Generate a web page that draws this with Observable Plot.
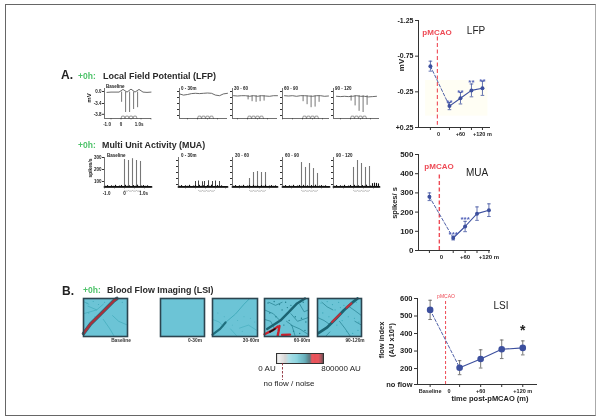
<!DOCTYPE html>
<html><head><meta charset="utf-8">
<script src="https://cdn.jsdelivr.net/npm/d3@7"></script>
<script src="https://cdn.jsdelivr.net/npm/@observablehq/plot@0.6"></script>
<style>
html,body{margin:0;padding:0;background:#fff}
#page{position:relative;width:600px;height:420px;overflow:hidden;font-family:"Liberation Sans",Arial,sans-serif;filter:blur(.3px)}
#border{position:absolute;left:5px;top:4px;width:589px;height:410px;border:1.5px solid #666;border-right-color:#aaa;box-sizing:content-box}
.t{position:absolute;white-space:nowrap;line-height:1}
svg{position:absolute;overflow:visible}
</style></head><body>
<div id="page"><div id="border"></div></div>
<script>
// ---------- summary charts ----------
const lfpTime=[-22,30,60,90,120], lfpMean=[-0.61,-0.05,-0.16,-0.27,-0.30], lfpErr=[0.07,0.05,0.08,0.09,0.10];
const lfpStars=[null,-0.11,-0.25,-0.39,-0.41];
const muaTime=[-30,30,60,90,120], muaMean=[280,65,125,192,210], muaErr=[20,10,27,35,33];
const muaStars=[null,87,168,null,null];
const lsiTime=[-12,30,60,90,120], lsiMean=[535,205,255,310,318], lsiErr=[55,40,52,53,40];
const lsiTickLabels=["Baseline","0","+60","+120 m"], lsiLabelPos=[-12,15,60,120];
// ---------- LFP traces (s, mV) ----------
const waveT=[-0.9,-0.7,-0.5,-0.3,-0.1,0.1,0.3,0.5,0.7,0.9,1.1,1.3,1.5];
const lfpBaseWave=[-.1,-.15,-.1,-.1,-.1,.35,-.1,.4,-.1,.35,-.1,-.15,-.1];
const lfpWave0=[-.4,-.6,-.5,-.35,-.3,-.35,-.3,-.25,-.3,-.6,-.7,-.4,-.3];
const lfpWave1=[-.7,-.7,-.75,-.7,-.7,-.8,-.7,-.8,-.7,-.75,-.8,-.7,-.7];
const lfpWave2=[-.7,-.75,-.7,-.8,-.7,-.7,-.75,-.8,-.7,-.7,-.8,-.75,-.7];
const lfpWave3=[-.8,-.8,-.85,-.8,-.85,-.8,-.7,-.8,-.8,-.9,-.85,-.8,-.9];
const lfpSpikeT=[0.03,0.23,0.43,0.63,0.83];
const lfpBaseDepth=[-1.8,-3.5,-3.5,-3.0,-2.7];
const lfpDepth1=[-1.4,-1.7,-1.8,-1.7,-1.6];
const lfpDepth2=[-1.7,-2.2,-2.7,-2.6,-1.8];
const lfpDepth3=[-1.6,-2.4,-3.3,-3.5,-2.3];
const lfpTitles=["Baseline","0 - 30m","30 - 60","60 - 90","90 - 120"];
// ---------- MUA traces (s, spikes/s) ----------
const muaNoiseT=[-0.95,-0.85,-0.75,-0.65,-0.55,-0.45,-0.35,-0.25,-0.15,-0.05,0.05,0.15,0.25,0.35,0.45,0.55,0.65,0.75,0.85,0.95,1.05,1.15,1.25];
const muaNoise=[60,66,58,64,60,68,58,62,67,57,68,60,64,58,66,60,69,57,62,66,60,64,58];
const muaSpikeT=[0,0.2,0.4,0.6,0.8];
const muaBaseTop=[283,275,290,275,267];
const muaTop1=[125,175,183,175,175];
const muaTop2=[258,217,250,208,167];
const muaTop3=[217,275,250,217,225];
const muaSmallT=[0,0.15,0.35,0.45,0.65,0.85,1.0,1.2], muaSmallTop=[100,104,98,100,106,100,104,100];
const muaExtraT=[0.95,1.05,1.15,1.25], muaExtraTop=[82,86,84,80];
const muaTitles=["Baseline","0 - 30m","30 - 60","60 - 90","90 - 120"];
// ---------- LSI images: vessels as polylines in % of the image ----------
const imgNames=["Baseline","0-30m","30-60m","60-90m","90-120m"];
const v0main=[[0,92],[16,67],[39,41],[69,6],[76,0]];
const v0caps=[[[66,45],[80,60],[100,70]],[[10,20],[30,30],[45,15]],[[0,40],[15,35],[30,30]],[[45,55],[60,80],[70,100]],[[0,8],[12,15]]];
const v2dark=[[0,95],[17,80],[29,63]];
const v2thin=[[29,63],[51,41],[70,15],[81,2]];
const v2caps=[[[0,55],[15,62],[25,75]],[[60,78],[80,70],[100,85]],[[40,80],[55,100]]];
const v3main=[[6,80],[36,58],[55,36],[74,13],[92,0]];
const v3red=[[[0,94],[18,84],[30,74]],[[34,72],[32,86],[30,98]],[[40,96],[58,95]]];
const v3black=[[12,88],[24,80]];
const v3caps=[[[0,30],[20,40],[35,58]],[[0,55],[14,60],[22,78]],[[60,40],[75,60],[100,50]],[[60,70],[80,80],[100,95]],[[10,10],[25,18],[40,10]],[[50,60],[62,70],[70,100]],[[80,15],[90,35],[100,30]]];
const v4main=[[2,91],[22,76],[41,54],[60,31],[79,11],[91,0]];
const v4red=[[[33,62],[52,40]],[[66,24],[77,13]]];
const v4caps=[[[0,50],[15,58],[30,70]],[[50,60],[62,78],[75,100]],[[70,20],[85,32],[100,45]],[[10,10],[22,22],[35,30]],[[85,60],[100,70]],[[18,100],[28,88]]];
const speckle=[[8,12],[22,8],[34,16],[48,10],[60,18],[88,10],[12,38],[26,48],[44,70],[56,58],[70,48],[84,52],[94,62],[66,86],[80,92],[92,84],[40,30],[52,24]];
// ---------- colorbar ----------
const barStops=[0,40000,160000,216000,360000,496000,576000,608000,720000,776000,800000];
const barColors=["#9a9a9a","#ececec","#c4c4c4","#8fd5e0","#5cc0d0","#2a8c9c","#20404a","#e0141e","#e0141e","#701520","#2a0c0c"];

const page=document.getElementById("page");
const ff='"Liberation Sans",Arial,sans-serif';
const blue="#3c4f9e", red="#ee4a55", axisCol="#333";
function put(svg,l,t){svg.style.left=l+"px";svg.style.top=t+"px";page.appendChild(svg);}
function label(s,x,y,o={}){
  const d=document.createElement("div");d.className="t";d.textContent=s;
  const a=o.anchor==="middle"?"-50%":o.anchor==="end"?"-100%":"0";
  d.style.cssText=`left:${x}px;top:${y}px;font-size:${o.size||6}px;font-weight:${o.weight||"normal"};color:${o.color||"#222"};transform:translate(${a},-50%) ${o.rotate?"rotate(-90deg)":""};`;
  page.appendChild(d);
}
const capSym={draw(c,s){const r=Math.sqrt(s/Math.PI);c.moveTo(-r,0);c.lineTo(r,0);}};
const base=(w,h,mt,mr,mb,ml,x,y)=>({width:w,height:h,marginTop:mt,marginRight:mr,marginBottom:mb,marginLeft:ml,
  x:{domain:x,axis:null,label:null},y:{domain:y,axis:null,label:null},style:{background:"transparent",fontFamily:ff,overflow:"visible"}});

function summary(o){
  const pts=o.time.map((x,i)=>({x,y:o.mean[i],e:o.err[i]}));
  const col=o.col||blue;
  return Plot.plot({...base(o.w,o.h,o.mt,o.mr,o.mb,o.ml,o.xd,o.yd),marks:[
    ...(o.under||[]),
    Plot.ruleX([o.xd[0]],{stroke:axisCol,strokeWidth:1}),
    Plot.ruleY([o.yd[0]],{stroke:axisCol,strokeWidth:1}),
    Plot.axisY({ticks:o.yt,tickFormat:o.yf,tickSize:3,tickPadding:2,fontSize:o.yfs,fontWeight:"bold",label:null,stroke:axisCol,color:"#222"}),
    Plot.axisX({ticks:o.time,tickFormat:()=>"",tickSize:3,label:null,stroke:axisCol}),
    Plot.text(o.xl,{x:d=>d,y:o.yd[0],text:(d,i)=>o.xt[i],dy:o.xdy,fontSize:o.xfs,fontWeight:"bold",fill:"#222"}),
    Plot.ruleX([o.red.x],{y1:o.red.y1,y2:o.red.y2,stroke:red,strokeWidth:o.red.w,strokeDasharray:o.red.dash}),
    Plot.line(pts.slice(0,2),{x:"x",y:"y",stroke:col,strokeWidth:.9,strokeDasharray:"3,2"}),
    Plot.line(pts.slice(1),{x:"x",y:"y",stroke:col,strokeWidth:1.1}),
    Plot.ruleX(pts,{x:"x",y1:d=>d.y-d.e,y2:d=>d.y+d.e,stroke:o.errCol||col,strokeWidth:.8}),
    Plot.dot(pts,{x:"x",y:d=>d.y+d.e,symbol:capSym,r:1.8,stroke:o.errCol||col,strokeWidth:.8}),
    Plot.dot(pts,{x:"x",y:d=>d.y-d.e,symbol:capSym,r:1.8,stroke:o.errCol||col,strokeWidth:.8}),
    Plot.dot(pts,{x:"x",y:"y",r:o.r,fill:col}),
    ...(o.stars||[])
  ]});
}
const starMark=(time,vals,s)=>Plot.text(time.map((t,i)=>({t,v:vals[i]})).filter(d=>d.v!=null),{x:"t",y:"v",text:()=>s,fill:"#5060b8",fontSize:8,fontWeight:"bold",dy:1});

// LFP summary
put(summary({w:120,h:125,mt:10,mr:20,mb:8,ml:28,xd:[-54.5,142],yd:[0.25,-1.25],r:2,
  time:lfpTime,mean:lfpMean,err:lfpErr,yt:[-1.25,-.75,-.25,.25],yf:d=>d>0?"+0.25":d.toFixed(2),yfs:7,
  xl:[0,60,120],xt:["0","+60","+120 m"],xdy:7,xfs:5.5,red:{x:-3,y1:-1.02,y2:.22,w:1.1,dash:"4,2.5"},
  under:[Plot.rect([0],{x1:-35,x2:135,y1:-.41,y2:.09,fill:"#fffef4"})],
  stars:[starMark(lfpTime,lfpStars,"**")]}),390,10);
label("mV",402,65,{size:8,weight:"bold",anchor:"middle",rotate:true});
label("pMCAO",437,33,{size:8,weight:"bold",color:red,anchor:"middle"});
label("LFP",476,31,{size:10,anchor:"middle"});

// MUA summary
put(summary({w:120,h:118,mt:14,mr:20,mb:8,ml:28,xd:[-57.5,124],yd:[0,500],r:2,
  time:muaTime,mean:muaMean,err:muaErr,yt:[0,100,200,300,400,500],yf:d=>d,yfs:8,
  xl:[0,60,120],xt:["0","+60","+120 m"],xdy:7,xfs:6,red:{x:-5,y1:0,y2:393,w:1.4,dash:"4,2.5"},
  stars:[starMark(muaTime,muaStars,"***")]}),390,140);
label("spikes/ s",395,203,{size:7.5,weight:"bold",anchor:"middle",rotate:true});
label("pMCAO",439,167,{size:8,weight:"bold",color:red,anchor:"middle"});
label("MUA",477,173,{size:10,anchor:"middle"});

// LSI summary
put(summary({w:160,h:103,mt:13,mr:8,mb:4,ml:32,xd:[-30,141],yd:[109,600],r:3.3,
  time:lsiTime,mean:lsiMean,err:lsiErr,errCol:"#555",yt:[109,200,300,400,500,600],yf:d=>d===109?"no flow":d,yfs:7.5,
  xl:lsiLabelPos,xt:lsiTickLabels,xdy:7,xfs:5.5,red:{x:10,y1:109,y2:595,w:1,dash:"3,2"},
  stars:[Plot.text([120],{x:d=>d,y:[428],text:()=>"*",fontSize:14,fontWeight:"bold",fill:"#222",dy:2})]}),385,285);
label("flow index",382,340,{size:7.5,weight:"bold",anchor:"middle",rotate:true});
label("(AU x10⁶)",392,340,{size:7.5,weight:"bold",anchor:"middle",rotate:true});
label("pMCAO",446,296,{size:5,color:red,anchor:"middle"});
label("LSI",501,306,{size:10,anchor:"middle"});
label("time post-pMCAO (m)",490,399,{size:7.5,weight:"bold",anchor:"middle"});

// Trace panels: axis left px, axis right px, zero-time px
const lfpBoxes=[[104,151,120.5],[179,227,197],[232,277,247],[282,329,302],[333,379,350]];
const muaBoxes=[[104,151,124],[178,227,195],[232,277,249],[282,329,301],[333,379,353]];
const pxPerSec=20;
function stim(b,h,start=0){const out=[];for(const s of [0,.2,.4,.6]){const t=start+s;out.push([t,b],[t+.04,b+h],[t+.16,b+h],[t+.2,b]);}return out;}
const lineOf=(a,o)=>Plot.line(a,{x:d=>d[0],y:d=>d[1],...o});
function tracePanel(box,yd,top,h,marks,yAxis,xAxis){
  const [l,r,z]=box;const ml=26;
  const xd=[(l-z)/pxPerSec,(r-z)/pxPerSec];
  const ticks=d3.range(Math.ceil(xd[0]*2)/2,xd[1],.5);
  const svg=Plot.plot({...base(r-l+ml+4,h+14,0,4,14,ml,xd,yd),marks:[
    ...marks,
    Plot.ruleX([xd[0]],{stroke:axisCol,strokeWidth:.7}),
    Plot.ruleY([yd[0]],{stroke:axisCol,strokeWidth:.7}),
    yAxis,
    Plot.axisX({ticks,tickFormat:()=>"",tickSize:1.5,strokeWidth:.5,label:null,stroke:axisCol}),
    ...(xAxis||[])
  ]});
  put(svg,l-ml,top);
}
// LFP row
const lfpDom=[-4.5,.5], lfpTop=88, lfpH=30;
const lfpWaves=[lfpBaseWave,lfpWave0,lfpWave1,lfpWave2,lfpWave3];
const lfpDepths=[lfpBaseDepth,null,lfpDepth1,lfpDepth2,lfpDepth3];
lfpBoxes.forEach((box,i)=>{
  const [l,r,z]=box;
  const inside=waveT.map((t,k)=>[t,lfpWaves[i][k]]).filter(d=>d[0]>=(l-z)/pxPerSec&&d[0]<=(r-z)/pxPerSec);
  const marks=[lineOf(inside,{stroke:"#444",strokeWidth:.8}),
    lineOf(stim(-4.5,.4),{stroke:"#555",strokeWidth:.6})];
  if(lfpDepths[i]) marks.push(Plot.ruleX(lfpSpikeT,{x:d=>d,y1:(d,k)=>lfpWaves[i][6],y2:(d,k)=>lfpDepths[i][k],stroke:"#666",strokeWidth:.9}));
  const ya=i===0?Plot.axisY({ticks:[0,-2,-3.8],tickFormat:d=>d===0?"0.0":d===-2?"-3.4":"-3.8",tickSize:2,tickPadding:1,fontSize:4.5,fontWeight:"bold",label:null,stroke:axisCol,color:"#222"})
    :Plot.axisY({ticks:[0,-1,-2,-3,-4],tickFormat:()=>"",tickSize:2,label:null,stroke:axisCol});
  const xa=i===0?[Plot.text([-.7,0,.9],{x:d=>d,y:lfpDom[0],text:(d,k)=>["-1.0","0","1.0s"][k],dy:6,fontSize:4.5,fontWeight:"bold",fill:"#222"})]:[];
  tracePanel(box,lfpDom,lfpTop,lfpH,marks,ya,xa);
  label(lfpTitles[i],l+2,i===0?86.5:89,{size:4.5,weight:"bold"});
});
label("mV",89,98,{size:6,weight:"bold",anchor:"middle",rotate:true});

// MUA row
const muaDom=[50,300], muaRowTop=157, muaH=30;
const muaTops=[muaBaseTop,null,muaTop1,muaTop2,muaTop3];
muaBoxes.forEach((box,i)=>{
  const [l,r,z]=box;const lo=(l-z)/pxPerSec+.03,hi=(r-z)/pxPerSec-.03,shift=(l-104)/pxPerSec-(z-124)/pxPerSec;
  const nT=muaNoiseT.map(t=>t+shift).map((t,k)=>({t,k})).filter(d=>d.t>lo&&d.t<hi);
  const marks=[
    lineOf(stim(25,-5,i===1?.15:0),{stroke:"#777",strokeWidth:.5})];
  if(muaTops[i]) marks.push(Plot.ruleX(muaSpikeT,{x:d=>d,y1:50,y2:(d,k)=>muaTops[i][k],stroke:"#777",strokeWidth:1.1}));
  if(i===1) marks.push(Plot.ruleX(muaSmallT,{x:d=>d,y1:50,y2:(d,k)=>muaSmallTop[k],stroke:"#444",strokeWidth:1}));
  if(i===4) marks.push(Plot.ruleX(muaExtraT,{x:d=>d,y1:50,y2:(d,k)=>muaExtraTop[k],stroke:"#111",strokeWidth:1.1}));
  marks.push(Plot.ruleX(nT,{x:"t",y1:50,y2:d=>muaNoise[d.k],stroke:"#111",strokeWidth:1.2}));
  marks.push(lineOf([[(l-z)/pxPerSec,55],[(r-z)/pxPerSec,55]],{stroke:"#111",strokeWidth:1.8}));
  const ya=i===0?Plot.axisY({ticks:[100,200,300],tickFormat:d=>d,tickSize:2,tickPadding:1,fontSize:4.5,fontWeight:"bold",label:null,stroke:axisCol,color:"#222"})
    :Plot.axisY({ticks:[75,125,175,225,275],tickFormat:()=>"",tickSize:2,label:null,stroke:axisCol});
  const xa=i===0?[Plot.text([-.9,0,.95],{x:d=>d,y:muaDom[0],text:(d,k)=>["-1.0","0","1.0s"][k],dy:6,fontSize:4.5,fontWeight:"bold",fill:"#222"})]:[];
  tracePanel(box,muaDom,muaRowTop,muaH,marks,ya,xa);
  label(muaTitles[i],l+3,155.5,{size:4.5,weight:"bold"});
});
label("spikes/s",91,168,{size:4.8,weight:"bold",anchor:"middle",rotate:true});

// LSI images
const cyan="#6cc4d6",teal="#3aa6b6",dark="#24808f",vred="#a8323c";
const imgBoxes=[[83,44],[160,44],[212,45],[264,44],[317,44]];
function img(i,marks){
  const [l,w]=imgBoxes[i];
  const svg=Plot.plot({...base(w,38,0,0,0,0,[0,100],[100,0]),marks:[
    Plot.frame({fill:cyan,stroke:null}),...marks,
    Plot.frame({stroke:"#2c4550",strokeWidth:1.6})]});
  put(svg,l,298);
  label(imgNames[i],i===0?121:i===1?195:i===2?251:i===3?302:355,340.5,{size:4.8,weight:"bold",anchor:"middle",color:"#333"});
}
const cap=(list,col,w)=>list.map(c=>lineOf(c,{stroke:col,strokeWidth:w}));
const specks=(list,col,r)=>Plot.dot(list,{x:d=>d[0],y:d=>d[1],r,fill:col});
img(0,[...cap(v0caps,teal,.6),specks(speckle.slice(0,8),teal,.5),lineOf(v0main,{stroke:"#1f6f7e",strokeWidth:3.6}),lineOf(v0main,{stroke:vred,strokeWidth:2.4})]);
img(1,[]);
img(2,[...cap(v2caps,teal,.5),specks(speckle.slice(6,14),teal,.45),lineOf(v2thin,{stroke:teal,strokeWidth:.8}),lineOf(v2dark,{stroke:"#1f6f7e",strokeWidth:2.2})]);
img(3,[...cap(v3caps,dark,.7),specks(speckle,dark,.7),lineOf(v3main,{stroke:"#1c6472",strokeWidth:2.4}),...cap(v3red,"#c8202c",2.4),lineOf(v3black,{stroke:"#111",strokeWidth:1.6})]);
img(4,[...cap(v4caps,dark,.7),specks(speckle,teal,.6),lineOf(v4main,{stroke:"#1c6472",strokeWidth:2.8}),...cap(v4red,"#b8323e",2.2)]);

// Colorbar
const barVals=d3.range(0,800000,8000);
put(Plot.plot({...base(47,32,0,0,22,0,[0,800000],[0,1]),
  color:{type:"linear",domain:barStops,range:barColors,interpolate:"rgb"},
  marks:[
    Plot.rect(barVals,{x1:d=>d,x2:d=>d+8000,y1:0,y2:1,fill:d=>d}),
    Plot.frame({stroke:"#333",strokeWidth:1}),
    Plot.ruleX([102000],{y1:0,y2:-1.7,stroke:"#8a2a35",strokeWidth:.9,strokeDasharray:"2.5,1.5"})
  ]}),276,353);
label("0 AU",267,369,{size:8,anchor:"middle"});
label("800000 AU",341,369,{size:8,anchor:"middle"});
label("no flow / noise",289,384,{size:8,anchor:"middle"});

// Headers
const green="#4fc36b";
label("A.",61,75,{size:12,weight:"bold"});
label("+0h:",78,76,{size:8.5,weight:"bold",color:green});
label("Local Field Potential (LFP)",103,76,{size:9,weight:"bold",color:"#2a2a2a"});
label("+0h:",78,145,{size:8.5,weight:"bold",color:green});
label("Multi Unit Activity (MUA)",102,145,{size:8.9,weight:"bold",color:"#2a2a2a"});
label("B.",62,291,{size:12,weight:"bold"});
label("+0h:",83,290,{size:8.5,weight:"bold",color:green});
label("Blood Flow Imaging (LSI)",107,290,{size:8.9,weight:"bold",color:"#2a2a2a"});
</script>
</body></html>
